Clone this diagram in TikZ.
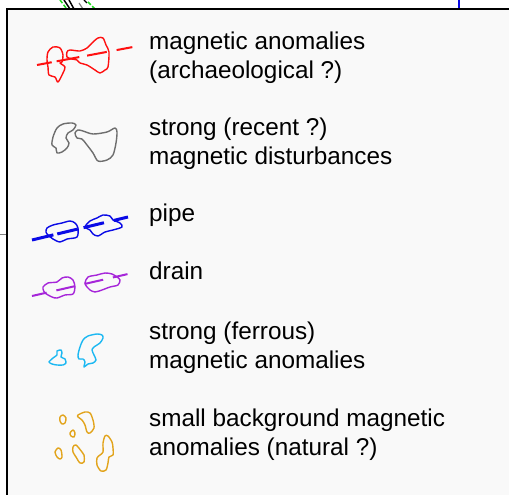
\documentclass[tikz,border=0pt]{standalone}
\usepackage{fontspec}
\setmainfont{Liberation Sans}
\definecolor{legfill}{HTML}{F9F9F9}
\definecolor{anored}{HTML}{FF1010}
\definecolor{distgray}{HTML}{6E6E6E}
\definecolor{pipeblue}{HTML}{0A0AE6}
\definecolor{drainpurple}{HTML}{A626D9}
\definecolor{ferrcyan}{HTML}{1CB8F2}
\definecolor{natorange}{HTML}{E2A41C}
\definecolor{mapgreen}{HTML}{22DD22}

\begin{document}
\begin{tikzpicture}[x=1pt, y=-1pt,
    legtext/.style={anchor=base west, inner sep=0pt, align=left,
                    font=\fontsize{24.3}{28.5}\selectfont},
    blob/.style={line width=1.4pt, line join=round}]
    \useasboundingbox (0,0) rectangle (509,495);
    \clip (0,0) rectangle (509,495);

    % map fragments behind the legend
    \draw[mapgreen, line width=1.5pt, dash pattern=on 4pt off 2pt] (60,0) -- (66,8);
    \draw[black, line width=1.5pt] (64,0) -- (70,9);
    \draw[black, line width=1.5pt] (69,0) -- (74,9);
    \draw[gray, line width=1.2pt] (79,3) -- (83,9);
    \draw[black, line width=1.2pt] (84,0) -- (87,3);
    \draw[mapgreen, line width=1.5pt, dash pattern=on 4pt off 2pt] (88,2) -- (95,9);
    \draw[pipeblue, line width=1.6pt] (459,0) -- (459,9);
    \draw[gray, line width=0.8pt] (0,234) -- (7,234);

    % legend frame
    \fill[legfill] (7,9) rectangle (509,495);
    \draw[black, line width=2pt] (509,9) -- (7,9) -- (7,495);

    % magnetic anomalies (archaeological)
    \draw[anored, blob] plot[smooth cycle, tension=0.5] coordinates {
        (48,52) (53,47) (60,48) (63,55) (62,62) (60,63) (65,67) (63,73)
        (58,82) (55,77) (49,75) (48,67) (47,60)};
    \draw[anored, blob] plot[smooth cycle, tension=0.5] coordinates {
        (67,52) (70,50) (80,51) (87,48) (92,43) (98,38) (103,38) (106,45)
        (109,52) (108,67) (105,70) (100,73) (95,70) (87,65) (80,63) (77,60)
        (72,59) (67,57)};
    \draw[anored, line width=2pt,
          dash pattern=on 15pt off 5pt on 23pt off 8pt on 20pt off 10pt on 16pt off 10pt]
        (37,65) -- (133,47);
    \node[legtext] (archlab) at (149,78) {magnetic anomalies\\(archaeological ?)};

    % strong magnetic disturbances
    \draw[distgray, blob] plot[smooth cycle, tension=0.5] coordinates {
        (52,145) (53,137) (57,128) (63,124) (72,123) (76,125) (73,130) (68,133)
        (66,138) (69,143) (67,148) (62,152) (57,153) (56,148)};
    \draw[distgray, blob] plot[smooth cycle, tension=0.5] coordinates {
        (75,133) (78,130) (83,131) (93,134) (107,132) (115,128) (117,132)
        (116,143) (113,155) (107,160) (98,161) (93,153) (87,145) (82,139) (77,138)};
    \node[legtext] (distlab) at (149,164) {strong (recent ?)\\magnetic disturbances};

    % pipe
    \draw[pipeblue, blob] plot[smooth cycle, tension=0.5] coordinates {
        (47,228) (53,225) (62,223) (70,221) (75,223) (78,228) (77,237) (67,239)
        (60,242) (53,239) (48,235) (46,232)};
    \draw[pipeblue, blob] plot[smooth cycle, tension=0.5] coordinates {
        (85,227) (90,221) (97,218) (103,215) (110,216) (113,220) (120,223)
        (122,227) (113,230) (105,232) (98,236) (93,234) (90,230)};
    \draw[pipeblue, line width=3pt,
          dash pattern=on 22pt off 4pt on 21pt off 6pt on 21pt off 10pt on 16pt off 10pt]
        (32,240) -- (128,217);
    \node[legtext] (pipelab) at (149,221) {pipe};

    % drain
    \draw[drainpurple, blob] plot[smooth cycle, tension=0.5] coordinates {
        (43,287) (48,283) (57,282) (62,278) (68,277) (73,280) (75,287) (73,294)
        (65,295) (57,298) (52,297) (45,293) (43,289)};
    \draw[drainpurple, blob] plot[smooth cycle, tension=0.5] coordinates {
        (85,283) (88,277) (97,275) (105,273) (112,274) (117,277) (120,280)
        (118,285) (110,287) (102,290) (95,292) (90,290) (87,287)};
    \draw[drainpurple, line width=2pt,
          dash pattern=on 15pt off 10pt on 19pt off 10pt on 19pt off 10pt on 15pt off 10pt]
        (32,296) -- (128,274);
    \node[legtext] (drainlab) at (149,279) {drain};

    % strong (ferrous) magnetic anomalies
    \draw[ferrcyan, blob] plot[smooth cycle, tension=0.4] coordinates {
        (49,362) (53,358) (57,355) (57,351) (61,350) (62,353) (61,357) (65,359)
        (66,363) (63,365) (57,365) (52,364)};
    \draw[ferrcyan, blob] plot[smooth cycle, tension=0.5] coordinates {
        (78,355) (80,347) (83,340) (88,336) (97,334) (102,335) (103,338)
        (100,343) (94,347) (92,350) (94,355) (96,360) (93,363) (88,364)
        (84,367) (85,362) (83,359) (79,359)};
    \node[legtext] (ferrlab) at (149,368) {strong (ferrous)\\magnetic anomalies};

    % small background magnetic anomalies
    \foreach \pts in {
        {(60,417) (63,415) (66,418) (65,423) (62,424) (60,421)},
        {(78,415) (85,412) (90,413) (93,420) (94,428) (90,433) (87,432) (85,425) (82,420) (78,417)},
        {(70,433) (73,430) (75,433) (74,437) (71,436)},
        {(55,452) (58,448) (61,450) (62,457) (60,459) (57,457)},
        {(73,447) (76,445) (82,452) (84,455) (84,462) (80,463) (76,457) (73,452)},
        {(105,436) (108,436) (112,442) (113,448) (113,455) (109,457) (108,463) (106,470)
         (101,471) (97,465) (97,458) (100,455) (103,452) (103,443)}}
        \draw[natorange, blob] plot[smooth cycle, tension=0.5] coordinates \pts;
    \node[legtext] (natlab) at (149,455) {small background magnetic\\anomalies (natural ?)};
\end{tikzpicture}
\end{document}
